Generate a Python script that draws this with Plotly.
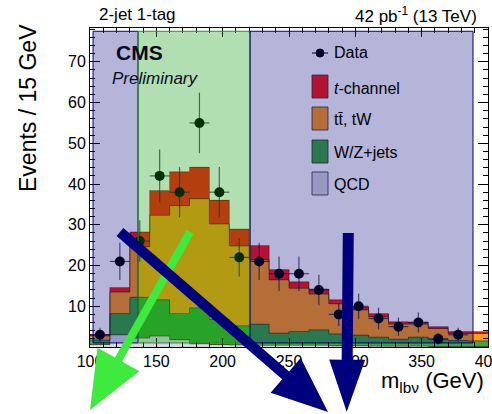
import math
import plotly.graph_objects as go

# ---------------- data ----------------
bin_edges = [100, 115, 130, 145, 160, 175, 190, 205, 220, 235, 250,
             265, 280, 295, 310, 325, 340, 355, 370, 385, 400]
bin_centers = [107.5, 122.5, 137.5, 152.5, 167.5, 182.5, 197.5, 212.5, 227.5, 242.5,
               257.5, 272.5, 287.5, 302.5, 317.5, 332.5, 347.5, 362.5, 377.5, 392.5]
qcd = [0.6, 3.0, 2.2, 2.7, 1.8, 0.8, 0.6, 0.5, 0.4, 0.4, 0.4, 0.4, 0.3, 0.3, 0.2, 0.2, 0.2, 0.1, 0.1, 0.1]
wzjets = [1.1, 5.2, 10.0, 8.9, 6.4, 8.8, 6.2, 4.7, 5.2, 3.0, 3.4, 3.8, 2.9, 2.6, 2.2, 1.7, 2.2, 1.8, 1.5, 1.4]
ttbar_tw = [1.0, 5.3, 12.4, 20.7, 26.5, 26.8, 23.4, 19.6, 15.8, 13.1, 10.6, 8.8, 7.4, 6.2, 5.0, 3.7, 3.2, 2.7, 1.8, 1.9]
tchannel = [0.3, 1.1, 3.6, 6.1, 8.3, 7.7, 5.8, 4.1, 3.5, 2.5, 1.6, 1.2, 1.0, 0.7, 0.8, 0.6, 0.5, 0.4, 0.4, 0.4]
data_x = [107.5, 122.5, 137.5, 152.5, 167.5, 182.5, 197.5, 212.5, 227.5, 242.5,
          257.5, 272.5, 287.5, 302.5, 317.5, 332.5, 347.5, 362.5, 377.5]
data_y = [3, 21, 26, 42, 38, 55, 38, 22, 21, 18, 18, 14, 8, 10, 7, 5, 6, 2, 3]
x_ticks = [100, 150, 200, 250, 300, 350, 400]
y_ticks = [10, 20, 30, 40, 50, 60, 70]

COL_T = "#ff1a14"
COL_TT = "#ff9c1a"
COL_W = "#3aaa3a"
COL_QCD = "#d6d6e2"
FONT = "Liberation Sans, Arial, sans-serif"

W_PX, H_PX = 492, 414
L_M, R_M, T_M, B_M = 90, 4, 28, 67
PW = W_PX - L_M - R_M
PH = H_PX - T_M - B_M


def px(x, y):
    return ((x - L_M) / PW, (H_PX - B_M - y) / PH)


fig = go.Figure()
widths = [bin_edges[i + 1] - bin_edges[i] for i in range(len(bin_centers))]
for name, vals, col in [("QCD", qcd, COL_QCD), ("W/Z+jets", wzjets, COL_W),
                        ("tt, tW", ttbar_tw, COL_TT), ("t-channel", tchannel, COL_T)]:
    fig.add_trace(go.Bar(x=bin_centers, y=vals, width=widths, marker=dict(color=col, line=dict(width=0)),
                         name=name, showlegend=False))

# step outlines of the stack
cum = [0.0] * len(bin_centers)
for vals in [qcd, wzjets, ttbar_tw, tchannel]:
    cum = [c + v for c, v in zip(cum, vals)]
    fig.add_trace(go.Scatter(x=bin_edges, y=cum + [cum[-1]], mode="lines", line_shape="hv",
                             line=dict(color="rgba(50,20,0,0.55)", width=1), showlegend=False,
                             hoverinfo="skip"))

fig.add_trace(go.Scatter(
    x=data_x, y=data_y, mode="markers",
    marker=dict(color="black", size=10),
    error_y=dict(type="data", array=[math.sqrt(v) for v in data_y], color="rgba(20,20,70,0.7)",
                 thickness=1.2, width=0),
    error_x=dict(type="constant", value=7.5, color="rgba(20,20,70,0.7)", thickness=1.2, width=0),
    showlegend=False))

shapes = []
# legend swatches
sw = [(75, 98, COL_T), (107, 130, COL_TT), (140, 163, COL_W), (172, 195, COL_QCD)]
for y0, y1, col in sw:
    a = px(312, y0)
    b = px(328, y1)
    shapes.append(dict(type="rect", xref="paper", yref="paper", x0=a[0], x1=b[0], y0=b[1], y1=a[1],
                       fillcolor=col, line=dict(color="rgba(60,40,40,0.8)", width=1), layer="above"))
a = px(312, 53); b = px(328, 53)
shapes.append(dict(type="line", xref="paper", yref="paper", x0=a[0], x1=b[0], y0=a[1], y1=b[1],
                   line=dict(color="black", width=1), layer="above"))
a = px(316, 49); b = px(324, 57)
shapes.append(dict(type="circle", xref="paper", yref="paper", x0=a[0], x1=b[0], y0=b[1], y1=a[1],
                   fillcolor="black", line=dict(color="black", width=1), layer="above"))

# translucent overlay regions
NAVY_FILL = "rgba(0,0,128,0.29)"
GREEN_FILL = "rgba(0,150,0,0.30)"
shapes.append(dict(type="rect", xref="x", yref="y", x0=102.3, x1=136.2, y0=1.0, y1=77.5,
                   fillcolor=NAVY_FILL, line=dict(color="#000080", width=1), layer="above"))
shapes.append(dict(type="rect", xref="x", yref="y", x0=136.2, x1=220.6, y0=1.0, y1=77.5,
                   fillcolor=GREEN_FILL, line=dict(color="#2e8b2e", width=1), layer="above"))
shapes.append(dict(type="rect", xref="x", yref="y", x0=220.6, x1=388.7, y0=1.0, y1=77.5,
                   fillcolor=NAVY_FILL, line=dict(color="#000080", width=1), layer="above"))


def arrow(start, tip, w, L, hw, color):
    sx, sy = start
    tx, ty = tip
    d = math.hypot(tx - sx, ty - sy)
    ux, uy = (tx - sx) / d, (ty - sy) / d
    nx, ny = -uy, ux
    bx, by = tx - L * ux, ty - L * uy
    pts = [(sx + nx * w / 2, sy + ny * w / 2), (bx + nx * w / 2, by + ny * w / 2),
           (bx + nx * hw, by + ny * hw), (tx, ty), (bx - nx * hw, by - ny * hw),
           (bx - nx * w / 2, by - ny * w / 2), (sx - nx * w / 2, sy - ny * w / 2)]
    pp = [px(x, y) for x, y in pts]
    path = "M " + " L ".join(f"{p[0]:.5f},{p[1]:.5f}" for p in pp) + " Z"
    return dict(type="path", xref="paper", yref="paper", path=path, fillcolor=color,
                line=dict(width=0), layer="above")


shapes.append(arrow((190, 232), (90, 410), 8, 58, 24, "#3eea3e"))
shapes.append(arrow((120, 232), (328, 412), 10.5, 56, 23, "#00007f"))
shapes.append(arrow((348.3, 233), (346.7, 411.7), 11, 52, 18, "#00007f"))

annotations = []


def text(t, x, y, size, xanchor="left", angle=0, color="black"):
    p = px(x, y)
    annotations.append(dict(text=t, x=p[0], y=p[1], xref="paper", yref="paper", showarrow=False,
                            xanchor=xanchor, yanchor="middle", textangle=angle,
                            font=dict(family=FONT, size=size, color=color)))


text("2-jet 1-tag", 97, 15, 17)
text("42 pb<sup>-1</sup> (13 TeV)", 479, 15, 17, xanchor="right")
text("<b>CMS</b>", 114, 52.5, 21, color="#0a0a25")
text("<i>Preliminary</i>", 110, 78, 17, color="#0a0a25")
text("Data", 332, 53, 16)
text("<i>t</i>-channel", 332, 88, 16)
text("tt\u0304, tW", 332, 120, 16)
text("W/Z+jets", 332, 152, 16)
text("QCD", 332, 184, 16)
text("m<sub>lb\u03bd</sub> (GeV)", 486, 382, 22, xanchor="right")
text("Events / 15 GeV", 28, 108, 23, xanchor="center", angle=-90)

fig.update_layout(
    width=W_PX, height=H_PX,
    margin=dict(l=L_M, r=R_M, t=T_M, b=B_M, autoexpand=False),
    paper_bgcolor="white", plot_bgcolor="white",
    barmode="stack", bargap=0,
    showlegend=False,
    shapes=shapes, annotations=annotations,
    font=dict(family=FONT, color="black"),
    xaxis=dict(range=[100, 400], tickvals=x_ticks, ticks="inside", ticklen=9, tickwidth=1,
               tickcolor="black", showline=True, linecolor="black", linewidth=1, mirror="allticks",
               showgrid=False, zeroline=False, tickfont=dict(size=16, family=FONT),
               ticklabeloverflow="allow", automargin=False,
               minor=dict(tick0=100, dtick=10, ticks="inside", ticklen=5, tickcolor="black", showgrid=False)),
    yaxis=dict(range=[0, 78.3], tickvals=y_ticks, ticks="inside", ticklen=10, tickwidth=1,
               tickcolor="black", showline=True, linecolor="black", linewidth=1, mirror="allticks",
               showgrid=False, zeroline=False, tickfont=dict(size=16, family=FONT), automargin=False,
               minor=dict(tick0=0, dtick=2, ticks="inside", ticklen=5, tickcolor="black", showgrid=False)),
)

fig.write_html("out.html")
